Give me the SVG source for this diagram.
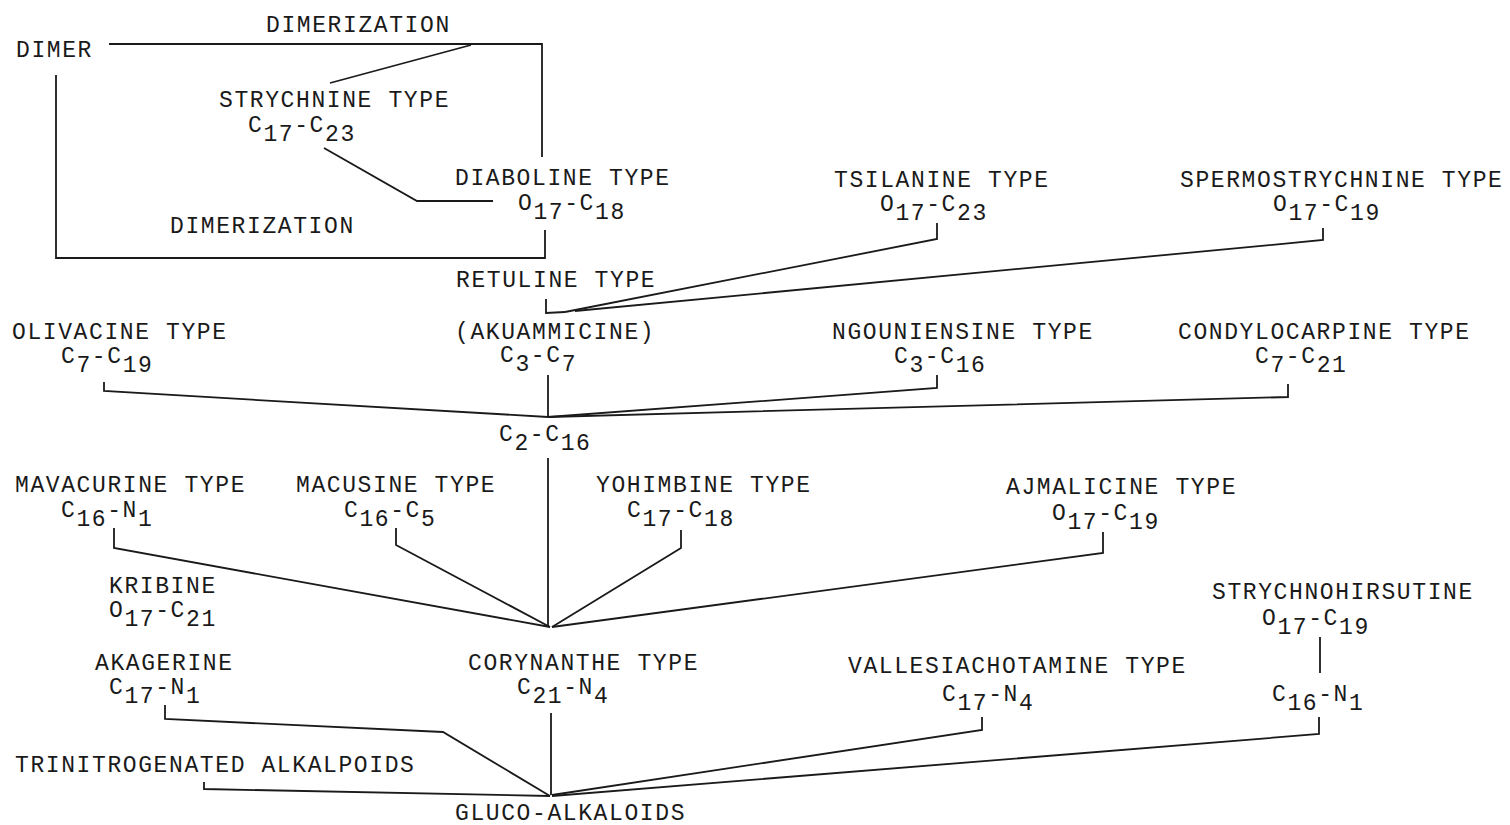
<svg xmlns="http://www.w3.org/2000/svg" width="1510" height="825" viewBox="0 0 1510 825">
<style>
text{font-family:"Liberation Mono","DejaVu Sans Mono",monospace;font-size:23px;letter-spacing:1.6px;fill:#1a1a1a}
.c{fill:none;stroke:#1a1a1a;stroke-width:1.8;stroke-linejoin:miter}
</style>
<rect width="1510" height="825" fill="#ffffff"/>
<g id="connectors">
<polyline class="c" points="109,44 542,44 542,157"/>
<polyline class="c" points="471,45 330,83"/>
<polyline class="c" points="324,148 417,201 493,201"/>
<polyline class="c" points="545,230 545,258 56,258 56,75"/>
<polyline class="c" points="546,299 546,313 565,312"/>
<polyline class="c" points="565,312 937,239 937,223"/>
<polyline class="c" points="575,311 1323,240 1323,228"/>
<polyline class="c" points="104,382 104,391 548,417"/>
<polyline class="c" points="548,375 548,417"/>
<polyline class="c" points="937,375 937,388 548,417"/>
<polyline class="c" points="1288,384 1288,397 548,417"/>
<polyline class="c" points="548,458 548,627"/>
<polyline class="c" points="114,528 114,548 550,627"/>
<polyline class="c" points="396,528 396,545 550,627"/>
<polyline class="c" points="681,530 681,548 552,627"/>
<polyline class="c" points="1103,532 1103,553 552,627"/>
<polyline class="c" points="1320,637 1320,673"/>
<polyline class="c" points="165,705 165,719 443,732 550,796"/>
<polyline class="c" points="551,713 551,795"/>
<polyline class="c" points="204,782 204,789 550,796"/>
<polyline class="c" points="982,717 982,730 552,795"/>
<polyline class="c" points="1319,717 1319,734 552,796"/>
</g>
<g id="dimerization-top"><text x="266" y="32">DIMERIZATION</text></g>
<g id="dimer"><text x="16" y="57">DIMER</text></g>
<g id="strychnine"><text x="219" y="107">STRYCHNINE TYPE</text><text x="248" y="132">C<tspan dy="9">17</tspan><tspan dy="-9">-C</tspan><tspan dy="9">23</tspan></text></g>
<g id="diaboline"><text x="455" y="185">DIABOLINE TYPE</text><text x="518" y="210">O<tspan dy="9">17</tspan><tspan dy="-9">-C</tspan><tspan dy="9">18</tspan></text></g>
<g id="dimerization-lower"><text x="170" y="233">DIMERIZATION</text></g>
<g id="tsilanine"><text x="834" y="187">TSILANINE TYPE</text><text x="880" y="211">O<tspan dy="9">17</tspan><tspan dy="-9">-C</tspan><tspan dy="9">23</tspan></text></g>
<g id="spermostrychnine"><text x="1180" y="187">SPERMOSTRYCHNINE TYPE</text><text x="1273" y="211">O<tspan dy="9">17</tspan><tspan dy="-9">-C</tspan><tspan dy="9">19</tspan></text></g>
<g id="retuline"><text x="456" y="287">RETULINE TYPE</text></g>
<g id="olivacine"><text x="12" y="339">OLIVACINE TYPE</text><text x="61" y="363">C<tspan dy="9">7</tspan><tspan dy="-9">-C</tspan><tspan dy="9">19</tspan></text></g>
<g id="akuammicine"><text x="455" y="339">(AKUAMMICINE)</text><text x="500" y="362">C<tspan dy="9">3</tspan><tspan dy="-9">-C</tspan><tspan dy="9">7</tspan></text></g>
<g id="ngouniensine"><text x="832" y="339">NGOUNIENSINE TYPE</text><text x="894" y="363">C<tspan dy="9">3</tspan><tspan dy="-9">-C</tspan><tspan dy="9">16</tspan></text></g>
<g id="condylocarpine"><text x="1178" y="339">CONDYLOCARPINE TYPE</text><text x="1255" y="363">C<tspan dy="9">7</tspan><tspan dy="-9">-C</tspan><tspan dy="9">21</tspan></text></g>
<g id="c2-c16"><text x="499" y="441">C<tspan dy="9">2</tspan><tspan dy="-9">-C</tspan><tspan dy="9">16</tspan></text></g>
<g id="mavacurine"><text x="15" y="492">MAVACURINE TYPE</text><text x="61" y="517">C<tspan dy="9">16</tspan><tspan dy="-9">-N</tspan><tspan dy="9">1</tspan></text></g>
<g id="macusine"><text x="296" y="492">MACUSINE TYPE</text><text x="344" y="517">C<tspan dy="9">16</tspan><tspan dy="-9">-C</tspan><tspan dy="9">5</tspan></text></g>
<g id="yohimbine"><text x="596" y="492">YOHIMBINE TYPE</text><text x="627" y="517">C<tspan dy="9">17</tspan><tspan dy="-9">-C</tspan><tspan dy="9">18</tspan></text></g>
<g id="ajmalicine"><text x="1006" y="494">AJMALICINE TYPE</text><text x="1052" y="520">O<tspan dy="9">17</tspan><tspan dy="-9">-C</tspan><tspan dy="9">19</tspan></text></g>
<g id="kribine"><text x="109" y="593">KRIBINE</text><text x="109" y="617">O<tspan dy="9">17</tspan><tspan dy="-9">-C</tspan><tspan dy="9">21</tspan></text></g>
<g id="strychnohirsutine"><text x="1212" y="599">STRYCHNOHIRSUTINE</text><text x="1262" y="625">O<tspan dy="9">17</tspan><tspan dy="-9">-C</tspan><tspan dy="9">19</tspan></text></g>
<g id="akagerine"><text x="95" y="670">AKAGERINE</text><text x="109" y="694">C<tspan dy="9">17</tspan><tspan dy="-9">-N</tspan><tspan dy="9">1</tspan></text></g>
<g id="corynanthe"><text x="468" y="670">CORYNANTHE TYPE</text><text x="517" y="694">C<tspan dy="9">21</tspan><tspan dy="-9">-N</tspan><tspan dy="9">4</tspan></text></g>
<g id="vallesiachotamine"><text x="848" y="673">VALLESIACHOTAMINE TYPE</text><text x="942" y="701">C<tspan dy="9">17</tspan><tspan dy="-9">-N</tspan><tspan dy="9">4</tspan></text></g>
<g id="c16-n1"><text x="1272" y="701">C<tspan dy="9">16</tspan><tspan dy="-9">-N</tspan><tspan dy="9">1</tspan></text></g>
<g id="trinitrogenated"><text x="15" y="772">TRINITROGENATED ALKALPOIDS</text></g>
<g id="gluco-alkaloids"><text x="455" y="820">GLUCO-ALKALOIDS</text></g>
</svg>
